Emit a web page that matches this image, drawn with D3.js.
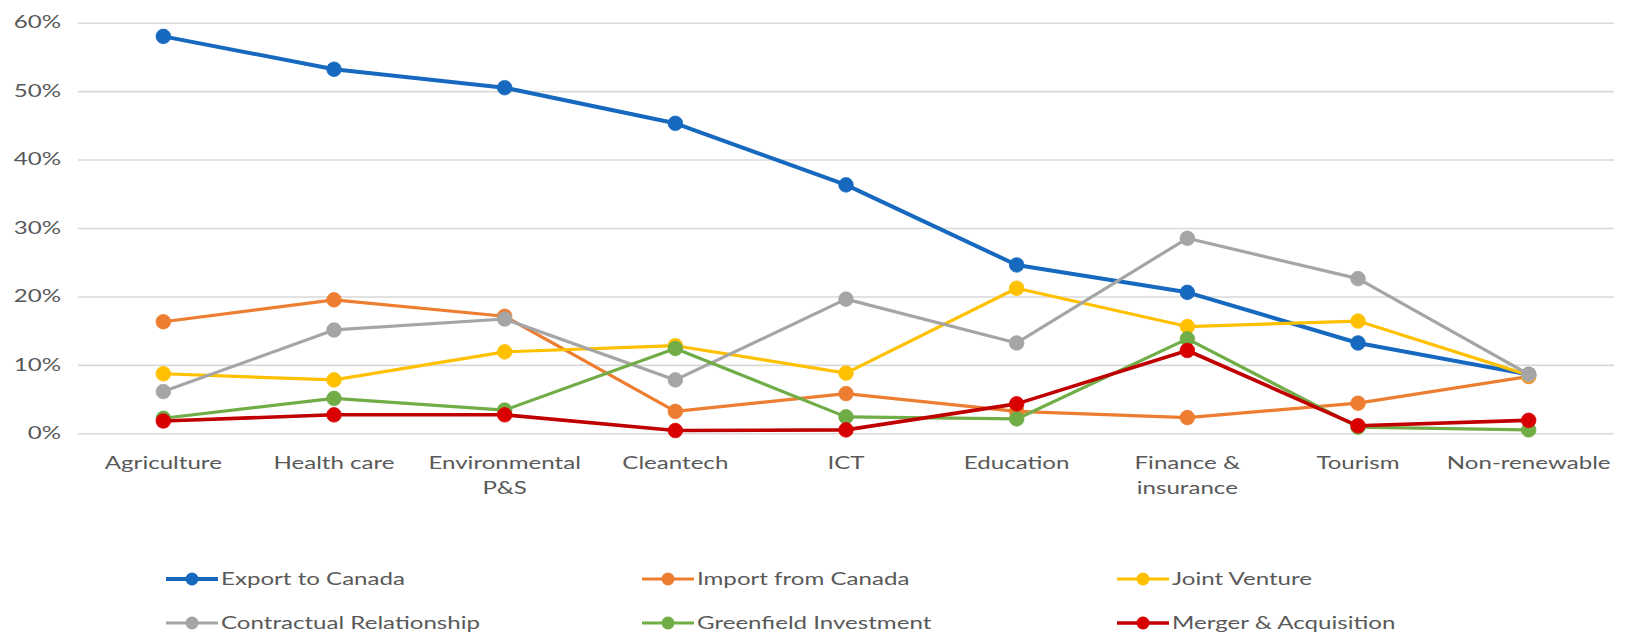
<!DOCTYPE html>
<html>
<head>
<meta charset="utf-8">
<script src="https://cdn.jsdelivr.net/npm/d3@7"></script>
<style>
  html, body { margin: 0; padding: 0; background: #fff; }
  svg { display: block; }
  text { font-family: Lato, "Open Sans", sans-serif; fill: #595959; }
</style>
</head>
<body>
<svg id="chart" width="1629" height="637"></svg>
<script>
// Sectors along the x axis (second line, if any, after "\n")
const categories = [
  "Agriculture", "Health care", "Environmental\nP&S", "Cleantech", "ICT",
  "Education", "Finance &\ninsurance", "Tourism", "Non-renewable"
];

// Share of respondents (%) per sector, by type of engagement
const exportToCanada   = [58.0, 53.2, 50.5, 45.3, 36.3, 24.6, 20.6, 13.2, 8.6];
const importFromCanada = [16.3, 19.5, 17.1, 3.2, 5.8, 3.2, 2.3, 4.4, 8.3];
const jointVenture     = [8.7, 7.8, 11.9, 12.8, 8.8, 21.2, 15.6, 16.4, 8.5];
const contractual      = [6.1, 15.1, 16.7, 7.8, 19.6, 13.2, 28.5, 22.6, 8.6];
const greenfield       = [2.2, 5.1, 3.4, 12.4, 2.4, 2.1, 13.8, 0.9, 0.5];
const mergerAcq        = [1.8, 2.7, 2.7, 0.4, 0.5, 4.3, 12.1, 1.1, 1.9];

const seriesNames = [
  "Export to Canada", "Import from Canada", "Joint Venture",
  "Contractual Relationship", "Greenfield Investment", "Merger & Acquisition"
];
const seriesValues = [exportToCanada, importFromCanada, jointVenture, contractual, greenfield, mergerAcq];
const seriesColors = ["#1769bf", "#ed7d31", "#ffc000", "#a5a5a5", "#70ad47", "#c00000"];
const markerColors = ["#1769bf", "#ed7d31", "#ffc000", "#a5a5a5", "#70ad47", "#d80000"];
const lineWidths   = [4, 3.2, 3.2, 3.2, 3.2, 3.6];

const yTicks = [0, 10, 20, 30, 40, 50, 60];

const series = seriesNames.map((name, i) => ({
  name, color: seriesColors[i], marker: markerColors[i], width: lineWidths[i],
  values: seriesValues[i].map((v, j) => ({ cat: categories[j], v }))
}));

const svg = d3.select("#chart");
const STRETCH = 1.46; // horizontal widening of the typeface

const x = d3.scaleBand().domain(categories).range([78, 1614]).paddingInner(0).paddingOuter(0);
const xc = c => x(c) + x.bandwidth() / 2;
const y = d3.scaleLinear().domain([0, 60]).range([433.3, 22.7]);

function widen(sel) {
  sel.each(function () {
    const w = this.getComputedTextLength();
    this.setAttribute("textLength", (w * STRETCH).toFixed(1));
    this.setAttribute("lengthAdjust", "spacingAndGlyphs");
  });
}

// Horizontal gridlines with percentage labels
const yAxis = d3.axisLeft(y).tickValues(yTicks).tickFormat(d => d + "%")
  .tickSize(-(x.range()[1] - x.range()[0])).tickPadding(17);
const gy = svg.append("g").attr("transform", `translate(${x.range()[0]},0)`).call(yAxis);
gy.select(".domain").remove();
gy.selectAll(".tick line").attr("stroke", "#d9d9d9").attr("stroke-width", 1.6);
gy.selectAll(".tick text")
  .attr("font-size", 16.5).attr("fill", "#595959")
  .style("font-family", "Lato, sans-serif")
  .call(widen);

// Category labels under the plot
const gx = svg.append("g");
categories.forEach(c => {
  c.split("\n").forEach((line, k) => {
    gx.append("text")
      .attr("x", xc(c)).attr("y", 469 + k * 25)
      .attr("text-anchor", "middle").attr("font-size", 16.5)
      .text(line);
  });
});
gx.selectAll("text").call(widen);

// Lines and markers, drawn in series order
const line = d3.line().x(d => xc(d.cat)).y(d => y(d.v));
const gs = svg.append("g").selectAll("g").data(series).join("g");
gs.append("path")
  .attr("d", d => line(d.values))
  .attr("fill", "none").attr("stroke", d => d.color)
  .attr("stroke-width", d => d.width).attr("stroke-linejoin", "round");
gs.selectAll("circle").data(d => d.values.map(p => ({ ...p, s: d }))).join("circle")
  .attr("cx", d => xc(d.cat)).attr("cy", d => y(d.v)).attr("r", 7.3)
  .attr("fill", d => d.s.marker).attr("stroke", d => d.s.marker).attr("stroke-width", 0.8);

// Legend: three columns, two rows
const legendCols = [166, 642, 1117];
const legendRows = [579, 623];
const lg = svg.append("g");
series.forEach((s, i) => {
  const lx = legendCols[i % 3], ly = legendRows[Math.floor(i / 3)];
  lg.append("line").attr("x1", lx).attr("x2", lx + 52).attr("y1", ly).attr("y2", ly)
    .attr("stroke", s.color).attr("stroke-width", s.width);
  lg.append("circle").attr("cx", lx + 26).attr("cy", ly).attr("r", 6.5).attr("fill", s.marker);
  lg.append("text").attr("class", "lt").attr("x", lx + 55).attr("y", ly).attr("dy", "0.35em")
    .attr("font-size", 16.5).text(s.name);
});
lg.selectAll("text").call(widen);
</script>
</body>
</html>
